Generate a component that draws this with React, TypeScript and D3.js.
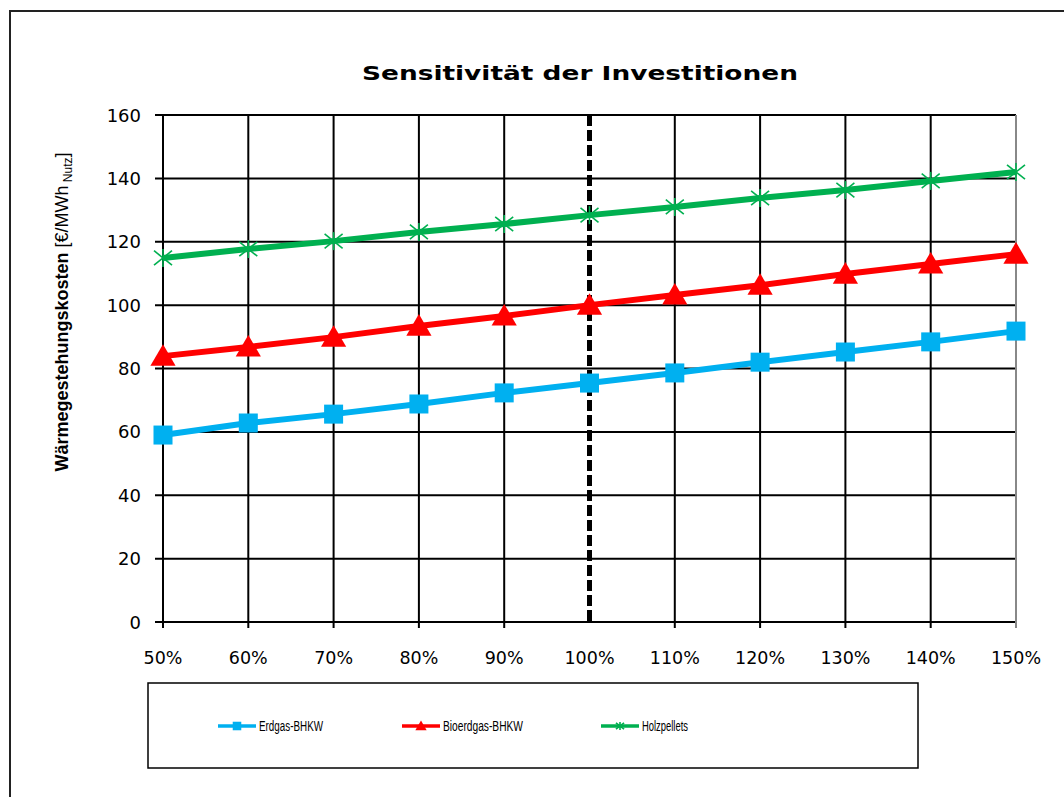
import React from "react";
import * as d3 from "d3";

const categories = ["50%", "60%", "70%", "80%", "90%", "100%", "110%", "120%", "130%", "140%", "150%"];
const erdgas = [59.0, 62.8, 65.6, 68.8, 72.3, 75.4, 78.6, 82.0, 85.2, 88.4, 91.8];
const bioerdgas = [83.9, 86.8, 89.9, 93.4, 96.6, 100.0, 103.2, 106.3, 109.8, 113.0, 116.1];
const holzpellets = [114.9, 117.7, 120.2, 123.1, 125.6, 128.4, 131.0, 133.8, 136.3, 139.2, 142.0];
const yTicks = [0, 20, 40, 60, 80, 100, 120, 140, 160];
const seriesNames = ["Erdgas-BHKW", "Bioerdgas-BHKW", "Holzpellets"];
const refCategory = "100%";

const W = 1064, H = 797;
const M = { left: 163, right: 1016, top: 115, bottom: 622 };

export default function App() {
  const x = d3.scalePoint<string>().domain(categories).range([M.left, M.right]);
  const y = d3.scaleLinear().domain([0, 160]).range([M.bottom, M.top]);
  const line = d3.line<number>().x((_, i) => x(categories[i])!).y((d) => y(d));
  const colors = ["#00B0F0", "#FF0000", "#00B050"];
  const series = [erdgas, bioerdgas, holzpellets];
  const font = "'DejaVu Sans', Verdana, sans-serif";
  const labelFont = "'Liberation Sans', Arial, sans-serif";

  const marker = (k: number, cx: number, cy: number, key: string | number, scale = 1) => {
    if (k === 0) {
      const s = 19 * scale;
      return <rect key={key} x={cx - s / 2} y={cy - s / 2} width={s} height={s} fill={colors[0]} />;
    }
    if (k === 1) {
      const s = 12 * scale;
      return <path key={key} d={`M${cx},${cy - s}L${cx + s * 1.05},${cy + s * 0.8}L${cx - s * 1.05},${cy + s * 0.8}Z`} fill={colors[1]} />;
    }
    const s = 9 * scale;
    return (
      <g key={key} stroke={colors[2]} strokeWidth={1.6}>
        <line x1={cx - s} y1={cy - s * 0.8} x2={cx + s} y2={cy + s * 0.8} />
        <line x1={cx - s} y1={cy + s * 0.8} x2={cx + s} y2={cy - s * 0.8} />
        <line x1={cx} y1={cy - s} x2={cx} y2={cy + s} />
      </g>
    );
  };

  const legendX = [218, 402, 601];
  const legendW = [64, 80, 46];
  const legendY = 726;

  return (
    <svg width={W} height={H} style={{ position: "absolute", left: 0, top: 0 }} fontFamily={font}>
      <rect x={0} y={0} width={W} height={H} fill="#fff" />
      <rect x={10} y={11} width={W + 20} height={H + 20} fill="none" stroke="#222" strokeWidth={2} />
      <text x={580} y={80} textAnchor="middle" fontSize={20} fontWeight="bold" textLength={436} lengthAdjust="spacingAndGlyphs">
        Sensitivität der Investitionen
      </text>
      {/* horizontal grid */}
      {yTicks.map((t) => (
        <g key={"y" + t}>
          <line x1={M.left - 8} x2={M.right} y1={y(t)} y2={y(t)} stroke="#000" strokeWidth={2} />
          <text x={141} y={y(t) + 6.5} textAnchor="end" fontSize={18}>{t}</text>
        </g>
      ))}
      {/* vertical grid */}
      {categories.map((c) => (
        <g key={"x" + c}>
          {c !== refCategory && (
            <line x1={x(c)} x2={x(c)} y1={M.top} y2={M.bottom + 6} stroke={c === categories[categories.length - 1] ? "#888" : "#000"} strokeWidth={2} />
          )}
          <text x={x(c)} y={664} textAnchor="middle" fontSize={17.5}>{c}</text>
        </g>
      ))}
      <line x1={M.left} x2={M.left} y1={M.top} y2={M.bottom} stroke="#000" strokeWidth={2} />
      <line x1={x(refCategory)} x2={x(refCategory)} y1={M.top} y2={M.bottom} stroke="#000" strokeWidth={5} strokeDasharray="11,4" />
      {/* y label */}
      <text transform={`translate(68,312) rotate(-90)`} textAnchor="middle" fontSize={18} fontFamily={labelFont}>
        <tspan fontWeight="bold">Wärmegestehungskosten</tspan>
        <tspan> [€/MWh</tspan>
        <tspan fontSize={12} dy={4}> Nutz</tspan>
        <tspan dy={-4}>]</tspan>
      </text>
      {/* series */}
      {series.map((s, k) => (
        <g key={"s" + k}>
          <path d={line(s) || ""} fill="none" stroke={colors[k]} strokeWidth={6} />
          {s.map((v, i) => marker(k, x(categories[i])!, y(v), i))}
        </g>
      ))}
      {/* legend */}
      <rect x={148} y={683} width={770} height={85} fill="none" stroke="#000" strokeWidth={1.5} />
      {seriesNames.map((n, k) => (
        <g key={"l" + k}>
          <line x1={legendX[k]} x2={legendX[k] + 38} y1={legendY} y2={legendY} stroke={colors[k]} strokeWidth={3.5} />
          {marker(k, legendX[k] + 19, legendY, "m", 0.45)}
          <text x={legendX[k] + 41} y={legendY + 5} fontSize={14} fontFamily={labelFont} textLength={legendW[k]} lengthAdjust="spacingAndGlyphs">{n}</text>
        </g>
      ))}
    </svg>
  );
}
